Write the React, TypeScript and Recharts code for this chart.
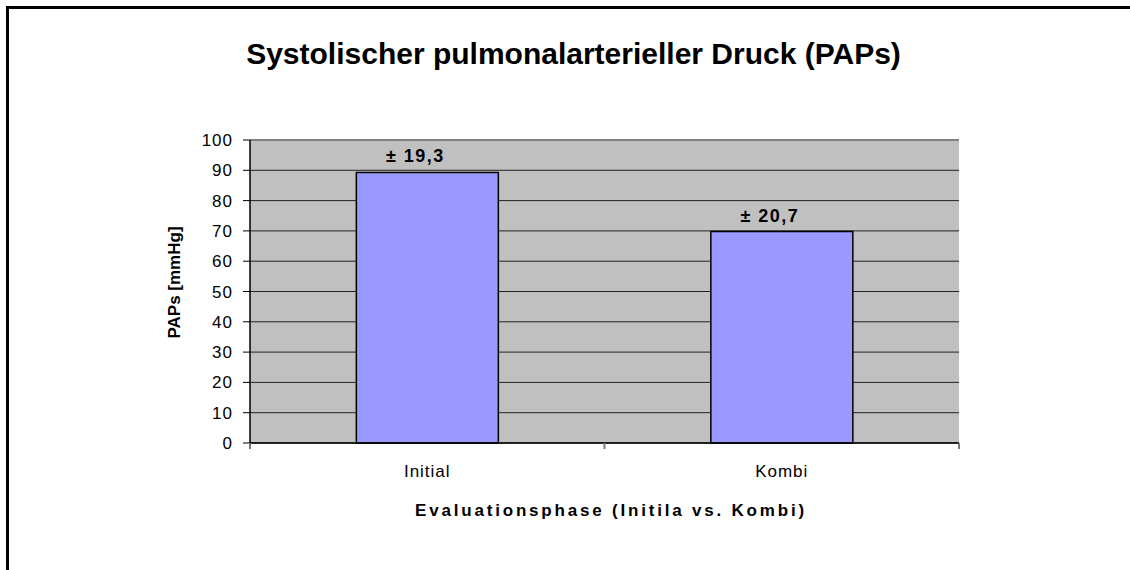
import React from "react";
import {
  BarChart,
  Bar,
  XAxis,
  YAxis,
  CartesianGrid,
  LabelList,
  Label,
  ReferenceLine,
} from "recharts";

const categories = ["Initial", "Kombi"];
const papsValues = [89.3, 69.8];
const sdValues = [19.3, 20.7];
const yTicks = [0, 10, 20, 30, 40, 50, 60, 70, 80, 90, 100];

const data = categories.map((c, i) => ({ name: c, paps: papsValues[i], sd: sdValues[i] }));

const FONT = "'Liberation Sans', Arial, Helvetica, sans-serif";
const X_TICK_SIZE = 6;
const X_TICK_MARGIN = 16;

const fmtSd = (v: number) => "\u00B1 " + v.toFixed(1).replace(".", ",");

const ValueLabel = (props: any) => {
  const { x, y, width, index } = props;
  return (
    <text
      x={x + width / 2 - 12}
      y={y - 16}
      textAnchor="middle"
      dominantBaseline="central"
      fontFamily={FONT}
      fontSize={18}
      fontWeight="bold"
      letterSpacing={1.5}
      fill="#000"
    >
      {fmtSd(sdValues[index])}
    </text>
  );
};

const XTick = (props: any) => {
  const { x, y, payload, index, visibleTicksCount } = props;
  const off = payload && payload.offset ? payload.offset : 0;
  const axisY = y - X_TICK_SIZE - X_TICK_MARGIN;
  const isLast = index === (visibleTicksCount ?? categories.length) - 1;
  return (
    <g>
      <line x1={x - off} x2={x - off} y1={axisY} y2={axisY + X_TICK_SIZE} stroke="#777" strokeWidth={2} />
      {isLast && (
        <line x1={x + off} x2={x + off} y1={axisY} y2={axisY + X_TICK_SIZE} stroke="#777" strokeWidth={2} />
      )}
      <text
        x={x}
        y={y}
        dy="0.71em"
        textAnchor="middle"
        fontFamily={FONT}
        fontSize={17}
        letterSpacing={1}
        fill="#000"
      >
        {payload.value}
      </text>
    </g>
  );
};

const YTitle = (props: any) => {
  const vb = props.viewBox;
  const cx = vb.x + 4.5;
  const cy = vb.y + vb.height / 2 - 9;
  return (
    <text
      x={cx}
      y={cy}
      transform={`rotate(-90, ${cx}, ${cy})`}
      textAnchor="middle"
      dominantBaseline="central"
      fontFamily={FONT}
      fontSize={17}
      fontWeight="bold"
      fill="#000"
    >
      PAPs [mmHg]
    </text>
  );
};

const XTitle = (props: any) => {
  const vb = props.viewBox;
  return (
    <text
      x={vb.x + vb.width / 2 + 6.5}
      y={vb.y + 73}
      textAnchor="middle"
      fontFamily={FONT}
      fontSize={17}
      fontWeight="bold"
      letterSpacing={2.8}
      fill="#000"
    >
      Evaluationsphase (Initila vs. Kombi)
    </text>
  );
};

export default function App() {
  return (
    <div
      style={{
        position: "absolute",
        left: 0,
        top: 0,
        width: 1130,
        height: 570,
        background: "#fff",
        overflow: "hidden",
        fontFamily: FONT,
      }}
    >
      <div
        style={{
          position: "absolute",
          left: 6,
          top: 6,
          width: 1124,
          height: 564,
          boxSizing: "border-box",
          borderLeft: "3px solid #000",
          borderTop: "3px solid #000",
        }}
      />
      <div
        style={{
          position: "absolute",
          left: 573.5,
          top: 39,
          transform: "translateX(-50%)",
          fontSize: 30,
          lineHeight: "30px",
          fontWeight: "bold",
          whiteSpace: "nowrap",
          color: "#000",
          fontFamily: FONT,
        }}
      >
        Systolischer pulmonalarterieller Druck (PAPs)
      </div>
      <div style={{ position: "absolute", left: 0, top: 0 }}>
        <BarChart
          width={1130}
          height={570}
          data={data}
          margin={{ top: 140, right: 171, bottom: 67, left: 170 }}
          barCategoryGap="30%"
        >
          <CartesianGrid
            vertical={false}
            stroke="#222"
            strokeWidth={1}
            fill="#C0C0C0"
            fillOpacity={1}
            yAxisId="left"
            xAxisId="cat"
          />
          <XAxis
            xAxisId="cat"
            dataKey="name"
            height={60}
            axisLine={{ stroke: "#000", strokeWidth: 1.5 }}
            tickLine={false}
            tickSize={X_TICK_SIZE}
            tickMargin={X_TICK_MARGIN}
            tick={<XTick />}
            interval={0}
          >
            <Label content={<XTitle />} />
          </XAxis>
          <YAxis
            yAxisId="left"
            domain={[0, 100]}
            ticks={yTicks}
            width={80}
            axisLine={{ stroke: "#000", strokeWidth: 1.5 }}
            tickLine={{ stroke: "#000", strokeWidth: 1 }}
            tickSize={7}
            tickMargin={10}
            tick={{ fill: "#000", fontSize: 17, fontFamily: FONT, letterSpacing: 1 }}
            interval={0}
          >
            <Label content={<YTitle />} />
          </YAxis>
          <YAxis
            yAxisId="right"
            orientation="right"
            domain={[0, 100]}
            width={0}
            axisLine={{ stroke: "#808080", strokeWidth: 2 }}
            tickLine={false}
            tick={false}
          />
          <ReferenceLine y={100} yAxisId="left" xAxisId="cat" stroke="#808080" strokeWidth={2} />
          <Bar
            dataKey="paps"
            xAxisId="cat"
            yAxisId="left"
            fill="#9999FF"
            stroke="#000"
            strokeWidth={1.5}
            isAnimationActive={false}
          >
            <LabelList dataKey="sd" content={<ValueLabel />} />
          </Bar>
        </BarChart>
      </div>
    </div>
  );
}
